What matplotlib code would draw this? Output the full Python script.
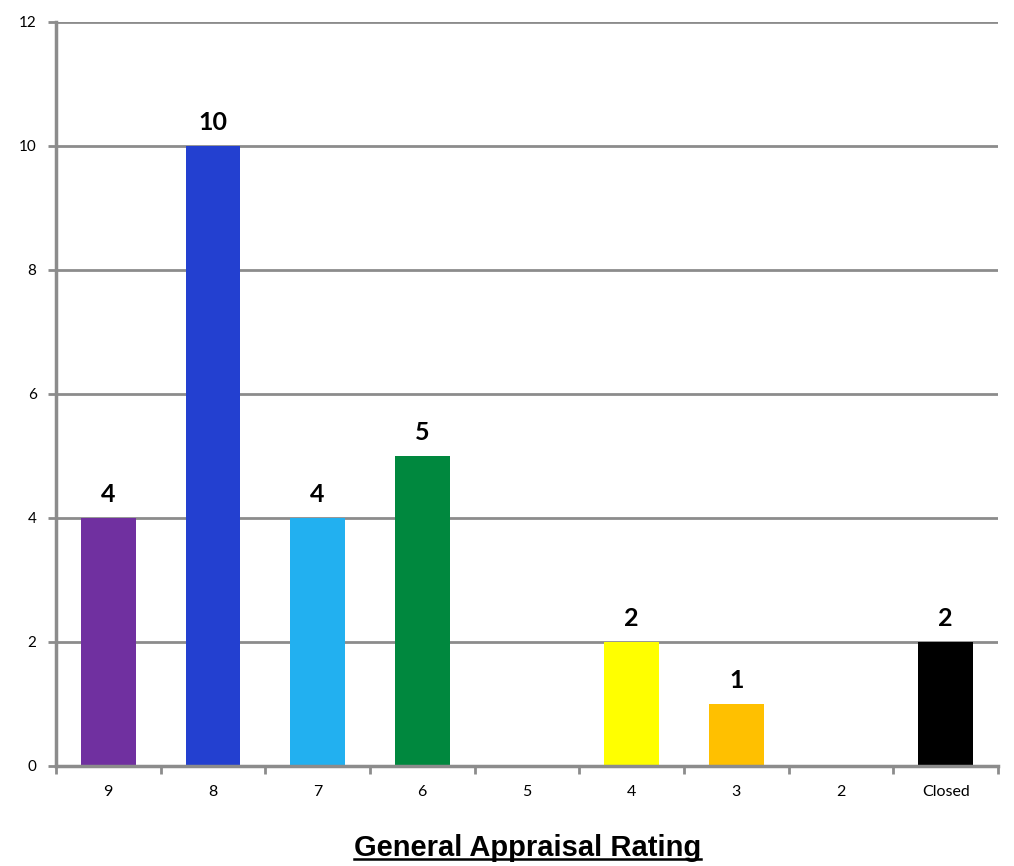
import numpy as np
import matplotlib
matplotlib.use("Agg")
import matplotlib.pyplot as plt
from matplotlib.lines import Line2D

categories = ["9", "8", "7", "6", "5", "4", "3", "2", "Closed"]
counts = [4, 10, 4, 5, 0, 2, 1, 0, 2]
bar_colors = ["#7030A0", "#2340D0", "#22B0F0", "#00883E", "#FFFFFF",
              "#FFFF00", "#FFC000", "#FFFFFF", "#000000"]
yticks = [0, 2, 4, 6, 8, 10, 12]

grey = "#8c8c8c"

fig = plt.figure(figsize=(10.14, 8.66), dpi=100)
ax = fig.add_axes([0.0552, 0.1155, 0.9290, 0.8591])

x = np.arange(len(categories))
ax.bar(x, counts, width=0.52, color=bar_colors, zorder=2)

for xi, v in zip(x, counts):
    if v > 0:
        ax.text(xi, v + 0.2, str(v), ha="center", va="bottom",
                fontsize=18, fontweight="bold", family="Lato")

ax.set_xlim(-0.5, len(categories) - 0.5)
ax.set_ylim(0, 12)
ax.set_yticks(yticks)
ax.set_yticklabels([str(t) for t in yticks], fontsize=11, family="Lato")
ax.yaxis.grid(True, color=grey, linewidth=2, zorder=1)
ax.set_axisbelow(True)

# ticks on category boundaries, labels at centres
ax.set_xticks(np.arange(len(categories) + 1) - 0.5)
ax.set_xticklabels([])
ax.set_xticks(x, minor=True)
ax.set_xticklabels(categories, minor=True, fontsize=11.5, family="Lato")
ax.tick_params(axis="x", which="minor", length=0, pad=14)
ax.tick_params(axis="x", which="major", length=6, width=2, color=grey, direction="out")
ax.tick_params(axis="y", length=6, width=2, color=grey, direction="out", pad=8)

for s in ["top", "right"]:
    ax.spines[s].set_visible(False)
for s in ["left", "bottom"]:
    ax.spines[s].set_color(grey)
    ax.spines[s].set_linewidth(2.5)
    ax.spines[s].set_zorder(3)

title = fig.text(0.52, 0.012, "General Appraisal Rating", ha="center", va="baseline",
                 fontsize=21, fontweight="bold", family="Liberation Sans")
fig.canvas.draw()
bb = title.get_window_extent().transformed(fig.transFigure.inverted())
fig.add_artist(Line2D([bb.x0, bb.x1], [0.008, 0.008],
                      transform=fig.transFigure, color="black", linewidth=1.8))

fig.savefig("out.png", dpi=100)
